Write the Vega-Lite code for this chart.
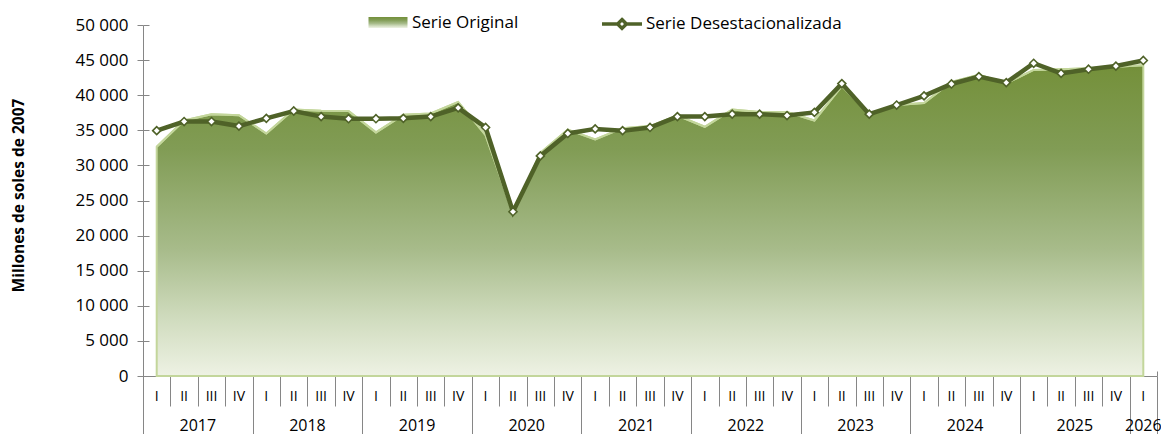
{
  "$schema": "https://vega.github.io/schema/vega-lite/v6.json",
  "width": 1014,
  "height": 351,
  "autosize": {"type": "none"},
  "padding": {"left": 143, "top": 25, "right": 4, "bottom": 58},
  "background": "white",
  "config": {
    "view": {"stroke": null},
    "font": "Open Sans",
    "axis": {"grid": false, "domainColor": "#868686", "tickColor": "#868686", "labelColor": "#000000", "labelFont": "Open Sans"}
  },
  "data": {
    "values": [
      {"p": "2017-I", "orig": 32650, "desest": 34950},
      {"p": "2017-II", "orig": 36400, "desest": 36250},
      {"p": "2017-III", "orig": 37300, "desest": 36250},
      {"p": "2017-IV", "orig": 37150, "desest": 35600},
      {"p": "2018-I", "orig": 34550, "desest": 36700},
      {"p": "2018-II", "orig": 37950, "desest": 37750},
      {"p": "2018-III", "orig": 37800, "desest": 36950},
      {"p": "2018-IV", "orig": 37750, "desest": 36650},
      {"p": "2019-I", "orig": 34700, "desest": 36650},
      {"p": "2019-II", "orig": 37200, "desest": 36700},
      {"p": "2019-III", "orig": 37400, "desest": 36950},
      {"p": "2019-IV", "orig": 39050, "desest": 38200},
      {"p": "2020-I", "orig": 34300, "desest": 35400},
      {"p": "2020-II", "orig": 23200, "desest": 23400},
      {"p": "2020-III", "orig": 31800, "desest": 31350},
      {"p": "2020-IV", "orig": 35100, "desest": 34550},
      {"p": "2021-I", "orig": 33700, "desest": 35200},
      {"p": "2021-II", "orig": 35300, "desest": 34950},
      {"p": "2021-III", "orig": 35600, "desest": 35400},
      {"p": "2021-IV", "orig": 37100, "desest": 36950},
      {"p": "2022-I", "orig": 35500, "desest": 36950},
      {"p": "2022-II", "orig": 37950, "desest": 37300},
      {"p": "2022-III", "orig": 37600, "desest": 37300},
      {"p": "2022-IV", "orig": 37600, "desest": 37100},
      {"p": "2023-I", "orig": 36400, "desest": 37550},
      {"p": "2023-II", "orig": 41300, "desest": 41650},
      {"p": "2023-III", "orig": 37300, "desest": 37300},
      {"p": "2023-IV", "orig": 38600, "desest": 38600},
      {"p": "2024-I", "orig": 38900, "desest": 39900},
      {"p": "2024-II", "orig": 41900, "desest": 41600},
      {"p": "2024-III", "orig": 42900, "desest": 42650},
      {"p": "2024-IV", "orig": 41700, "desest": 41800},
      {"p": "2025-I", "orig": 43600, "desest": 44550},
      {"p": "2025-II", "orig": 43700, "desest": 43100},
      {"p": "2025-III", "orig": 43830, "desest": 43700},
      {"p": "2025-IV", "orig": 44050, "desest": 44150},
      {"p": "2026-I", "orig": 44250, "desest": 44950}
    ]
  },
  "resolve": {"axis": {"x": "independent", "y": "independent"}},
  "layer": [
    {
      "mark": {
        "type": "area", "stroke": "#C3D69B", "strokeWidth": 2,
        "fill": {"gradient": "linear", "x1": 0, "y1": 0, "x2": 0, "y2": 1, "stops": [{"offset": 0, "color": "#74903A"}, {"offset": 0.27, "color": "#819C55"}, {"offset": 0.59, "color": "#A7BB8A"}, {"offset": 0.81, "color": "#CFDBBD"}, {"offset": 1, "color": "#EEF2E4"}]}
      },
      "encoding": {
        "x": {
          "field": "p", "type": "ordinal", "sort": null,
          "scale": {"type": "band", "paddingInner": 0, "paddingOuter": 0},
          "axis": {
            "orient": "bottom", "title": null, "labels": false, "domain": true,
            "domainColor": "#868686", "tickBand": "extent", "tickColor": "#868686",
            "tickSize": {"condition": {"test": "!datum.value || indexof(datum.value, 'IV') > 0 || datum.value == '2026-I'", "value": 60}, "value": 30}
          }
        },
        "y": {
          "field": "orig", "type": "quantitative",
          "scale": {"domain": [0, 50000], "nice": false, "zero": true},
          "axis": {
            "orient": "left", "values": [0, 5000, 10000, 15000, 20000, 25000, 30000, 35000, 40000, 45000, 50000],
            "format": ",d", "labelExpr": "replace(datum.label, ',', ' ')",
            "labelFontSize": 17, "labelPadding": 9, "tickSize": 6,
            "title": "Millones de soles de 2007", "titleFontSize": 15.5, "titleFontWeight": "bold",
            "titleColor": "#000000", "titleX": -120, "titleY": 170, "titleAngle": -90, "titleBaseline": "alphabetic", "titleAlign": "center"
          }
        },
        "opacity": {
          "datum": "Serie Original",
          "scale": {"range": [1]},
          "legend": {
            "orient": "none", "legendX": 225, "legendY": -22.5, "padding": 0, "title": null,
            "symbolType": "M-1,-0.28H1V0.28H-1Z", "symbolSize": 1521,
            "symbolFillColor": "#A3B985", "symbolStrokeColor": "#C3D69B", "symbolStrokeWidth": 1,
            "labelFontSize": 17, "labelColor": "#000000", "labelOffset": 4, "labelLimit": 400
          }
        }
      }
    },
    {
      "mark": {"type": "line", "stroke": "#C3D69B", "strokeWidth": 2},
      "encoding": {
        "x": {
          "field": "p", "type": "ordinal", "sort": null,
          "axis": {"orient": "bottom", "title": null, "labels": false, "domain": false, "tickBand": "extent", "tickSize": -5, "tickColor": "#868686"}
        },
        "y": {
          "field": "orig", "type": "quantitative",
          "axis": {"orient": "left", "values": [0, 5000, 10000, 15000, 20000, 25000, 30000, 35000, 40000, 45000, 50000], "labels": false, "domain": false, "tickSize": -6, "title": null}
        }
      }
    },
    {
      "mark": {"type": "line", "strokeWidth": 4.5},
      "encoding": {
        "x": {
          "field": "p", "type": "ordinal", "sort": null,
          "axis": {"orient": "bottom", "title": null, "ticks": false, "domain": false, "labelAngle": 0, "labelExpr": "split(datum.value, '-')[1]", "labelFontSize": 14, "labelPadding": 13, "labelBaseline": "top"}
        },
        "y": {"field": "desest", "type": "quantitative", "axis": null},
        "stroke": {
          "datum": "Serie Desestacionalizada",
          "scale": {"range": ["#4F6228"]},
          "legend": {
            "orient": "none", "legendX": 457, "legendY": -23, "padding": 0, "title": null,
            "symbolType": "M-1,0H-0.22M0.22,0H1M0,-0.22L0.22,0L0,0.22L-0.22,0Z", "symbolSize": 1600,
            "symbolStrokeColor": "#4F6228", "symbolFillColor": "#FFFFFF", "symbolStrokeWidth": 3.5,
            "labelFontSize": 17, "labelColor": "#000000", "labelOffset": 2, "labelLimit": 400
          }
        }
      }
    },
    {
      "mark": {"type": "point", "shape": "diamond", "filled": true, "fill": "#FFFFFF", "stroke": "#4F6228", "strokeWidth": 1.6, "size": 64, "opacity": 1},
      "encoding": {
        "x": {
          "field": "p", "type": "ordinal", "sort": null,
          "axis": {
            "orient": "bottom", "title": null, "ticks": false, "domain": false, "labelAngle": 0,
            "values": ["2017-II", "2018-II", "2019-II", "2020-II", "2021-II", "2022-II", "2023-II", "2024-II", "2025-II", "2026-I"],
            "labelExpr": "slice(datum.value, 0, 4)", "labelFontSize": 16, "labelPadding": 41, "labelBaseline": "top",
            "labelOffset": {"condition": {"test": "datum.value == '2026-I'", "value": 0}, "value": 13.7}
          }
        },
        "y": {"field": "desest", "type": "quantitative", "axis": null}
      }
    }
  ]
}
